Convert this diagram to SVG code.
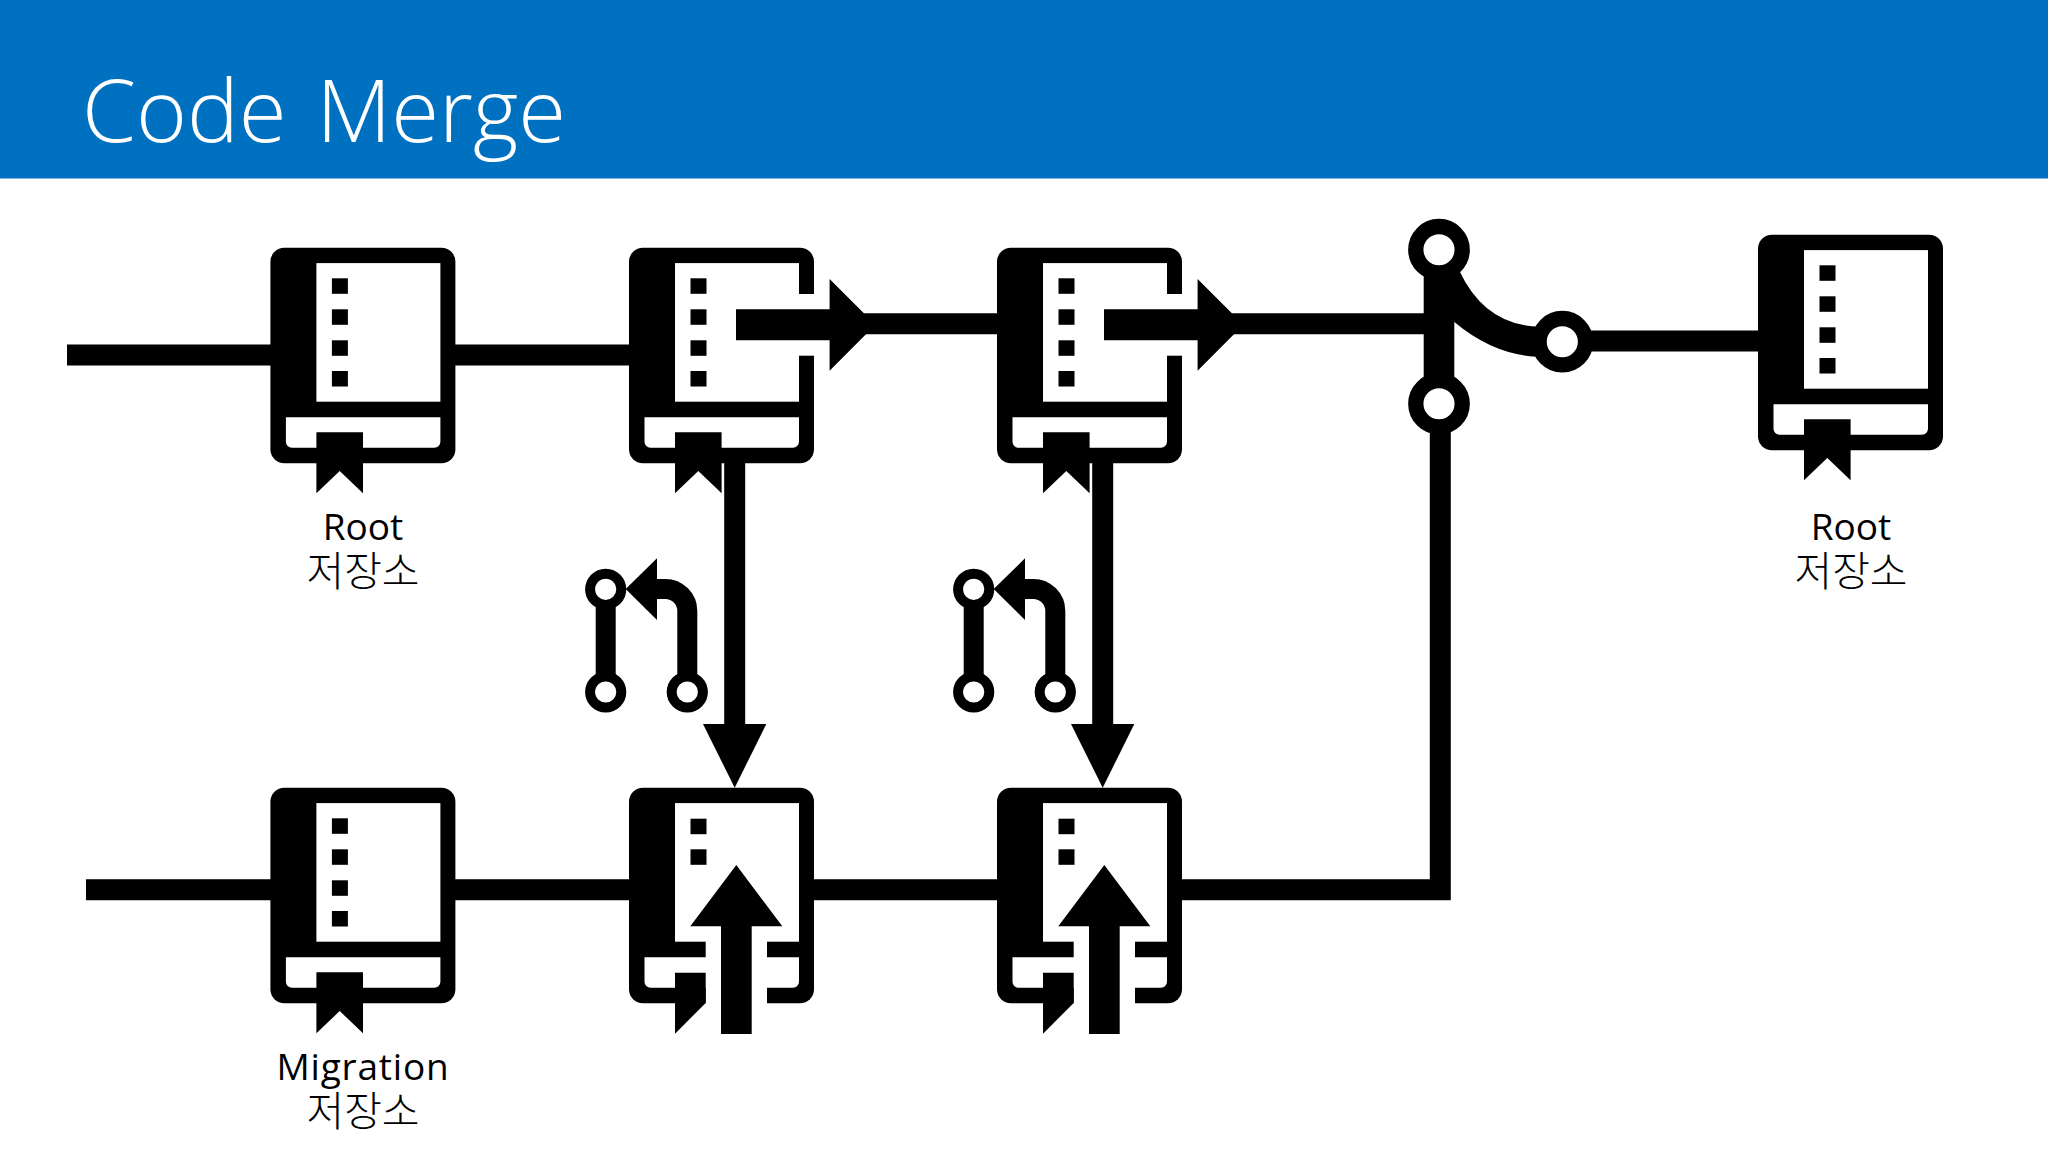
<svg xmlns="http://www.w3.org/2000/svg" xmlns:xlink="http://www.w3.org/1999/xlink" width="2048" height="1152" viewBox="0 0 2048 1152">
<style>
.title{font-family:"Open Sans","Noto Sans",sans-serif;font-weight:300;font-size:87px;word-spacing:7px;fill:#fff}
.lbl{font-family:"Open Sans","Noto Sans","Noto Sans CJK KR",sans-serif;font-size:37px;font-weight:400;fill:#000;text-anchor:middle}
.ko{font-family:"Noto Sans CJK KR",sans-serif;font-size:41px;font-weight:300;fill:#000;text-anchor:middle}
.w{fill:#fff}
.conn{stroke:#000;stroke-width:21;fill:none}
.ring{fill:#fff;stroke:#000}
</style>
<defs>
<g id="shell">
<rect width="185" height="215.6" rx="14"/>
<rect class="w" x="46" y="15.4" width="124" height="138.6"/>
<path class="w" d="M15.500 169.500H170V194a6 6 0 0 1-6 6H21.500a6 6 0 0 1-6-6Z"/>
</g>
<g id="sq4"><rect x="61.500" y="30.600" width="16" height="15.500"/><rect x="61.500" y="61.600" width="16" height="15.500"/><rect x="61.500" y="92.600" width="16" height="15.500"/><rect x="61.500" y="123.300" width="16" height="15.500"/></g>
<path id="mark" d="M46 184.600H92.600V245.600L69.300 223.300 46 245.600Z"/>
<g id="book"><use href="#shell"/><use href="#sq4"/><use href="#mark"/></g>
<g id="push"><use href="#book"/><rect class="w" x="169" y="46.300" width="20" height="61.700"/><rect class="w" x="107" y="61" width="70" height="33"/><path d="M107 61.600H200.600V31.300L246.400 77 200.600 123V92.600H107Z"/></g>
<g id="pull"><use href="#shell"/>
<rect x="61.500" y="31" width="16" height="15.500"/><rect x="61.500" y="61.600" width="16" height="15.500"/>
<rect class="w" x="76.700" y="153" width="61.300" height="100"/>
<path d="M46 185H76.700V215.300L46 246Z"/>
<path d="M107.300 77.300L153.300 138.600H122.700V246.300H92V138.600H61.300Z"/></g>
<g id="merge">
<path d="M605.700 589V692M687.300 692V611A22 22 0 0 0 665.300 589H650" stroke="#000" stroke-width="20" fill="none"/>
<path d="M625.700 589L657 558.300V620Z"/>
<circle class="ring" cx="605.700" cy="589.300" r="15.600" stroke-width="10"/>
<circle class="ring" cx="605.700" cy="692" r="15.600" stroke-width="10"/>
<circle class="ring" cx="687.300" cy="692" r="15.600" stroke-width="10"/>
</g>
</defs>
<rect width="2048" height="1152" fill="#fff"/>
<g id="header"><rect width="2048" height="178.500" fill="#0070c0"/><text class="title" x="82" y="141.700">Code Merge</text></g>
<g id="connectors">
<path class="conn" d="M67 355H280M450 355H640M800 323.700H1010M1220 323.700H1430"/>
<path class="conn" d="M86 889.700H280M450 889.700H640M800 889.700H1010M1170 889.700H1440.300V410"/>
<path class="conn" d="M1580 341H1770"/>
<path class="conn" d="M734.700 463V730M1102.700 463V730"/>
<path d="M703 724H766.300L734.700 787.700Z"/>
<path d="M1071 724H1134.300L1102.700 787.700Z"/>
</g>
<g id="node-root-1"><use href="#book" x="270.400" y="247.700"/><text class="lbl" x="363" y="539.500">Root</text><text class="ko" x="363" y="586">저장소</text></g>
<g id="node-root-push-1"><use href="#push" x="629" y="247.700"/></g>
<g id="node-root-push-2"><use href="#push" x="997" y="247.700"/></g>
<g id="node-root-final"><use href="#book" x="1758" y="234.700"/><text class="lbl" x="1851" y="539.500">Root</text><text class="ko" x="1851" y="586">저장소</text></g>
<g id="node-migration"><use href="#book" x="270.400" y="787.700"/><text class="lbl" x="363" y="1079.500" letter-spacing="0.8">Migration</text><text class="ko" x="363" y="1126">저장소</text></g>
<g id="node-migration-pull-1"><use href="#pull" x="629" y="787.700"/></g>
<g id="node-migration-pull-2"><use href="#pull" x="997" y="787.700"/></g>
<g id="node-merge-1"><use href="#merge"/></g>
<g id="node-merge-2"><use href="#merge" x="368"/></g>
<g id="node-junction">
<rect x="1423.700" y="249" width="30.600" height="155"/>
<path d="M1459 270Q1485 326 1540 326.700V356.700Q1495 356 1454.300 322H1445V270Z"/>
<circle class="ring" cx="1439" cy="249.700" r="23.200" stroke-width="15.300"/>
<circle class="ring" cx="1439" cy="403.700" r="23.200" stroke-width="15.300"/>
<circle class="ring" cx="1562.300" cy="341.700" r="23.200" stroke-width="15.300"/>
</g>
</svg>
